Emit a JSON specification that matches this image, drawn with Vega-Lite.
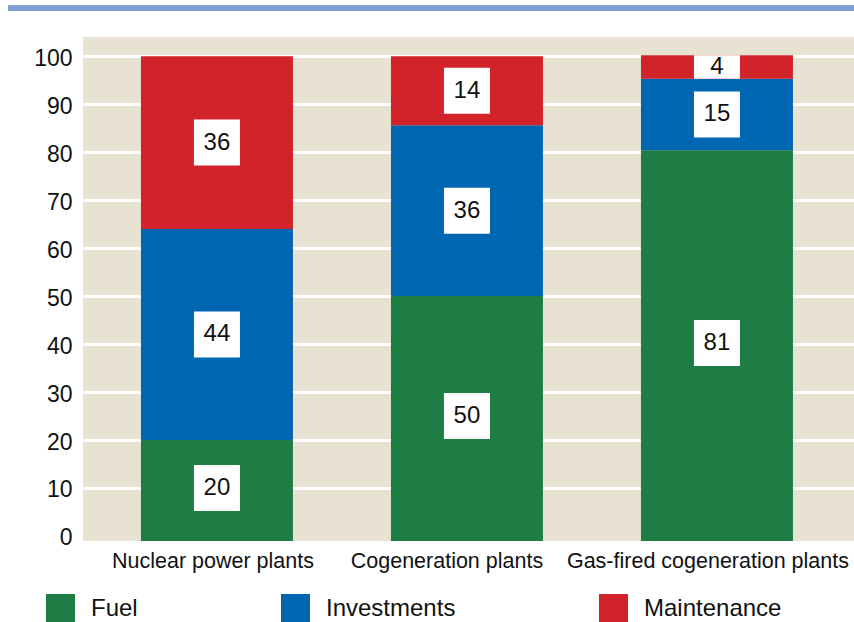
{
  "$schema": "https://vega.github.io/schema/vega-lite/v6.json",
  "width": 771,
  "height": 504,
  "autosize": {"type": "none"},
  "padding": {"left": 83, "top": 37, "right": 0, "bottom": 81},
  "background": "white",
  "config": {
    "view": {"fill": "#E8E2D3", "stroke": null},
    "font": "Liberation Sans"
  },
  "data": {
    "values": [
      {"plant": "Nuclear power plants", "cost": "Fuel", "rank": 1, "value": 20, "label": "20"},
      {"plant": "Nuclear power plants", "cost": "Investments", "rank": 2, "value": 44, "label": "44"},
      {"plant": "Nuclear power plants", "cost": "Maintenance", "rank": 3, "value": 36, "label": "36"},
      {"plant": "Cogeneration plants", "cost": "Fuel", "rank": 1, "value": 50, "label": "50"},
      {"plant": "Cogeneration plants", "cost": "Investments", "rank": 2, "value": 35.6, "label": "36"},
      {"plant": "Cogeneration plants", "cost": "Maintenance", "rank": 3, "value": 14.4, "label": "14"},
      {"plant": "Gas-fired cogeneration plants", "cost": "Fuel", "rank": 1, "value": 80.4, "label": "81"},
      {"plant": "Gas-fired cogeneration plants", "cost": "Investments", "rank": 2, "value": 14.9, "label": "15"},
      {"plant": "Gas-fired cogeneration plants", "cost": "Maintenance", "rank": 3, "value": 4.9, "label": "4"}
    ]
  },
  "transform": [
    {"stack": "value", "groupby": ["plant"], "sort": [{"field": "rank", "order": "ascending"}], "as": ["v0", "v1"]},
    {"calculate": "datum.v0 == 0 ? -1.05 : datum.v0", "as": "base"},
    {"calculate": "(datum.v0 + datum.v1) / 2", "as": "mid"},
    {"calculate": "max(datum.v0, datum.mid - 4.8)", "as": "boxLo"},
    {"calculate": "min(datum.v1, datum.mid + 4.8)", "as": "boxHi"}
  ],
  "layer": [
    {
      "encoding": {
        "x": {
          "field": "plant",
          "type": "nominal",
          "sort": ["Nuclear power plants", "Cogeneration plants", "Gas-fired cogeneration plants"],
          "scale": {"paddingInner": 0.392, "paddingOuter": 0.238, "align": 0.487},
          "axis": {
            "title": null,
            "labelAngle": 0,
            "labelFontSize": 21.5,
            "labelColor": "#111111",
            "labelPadding": 9,
            "labelLimit": 0,
            "ticks": false,
            "domain": false,
            "labelOffset": {
              "condition": [
                {"test": "datum.value == 'Cogeneration plants'", "value": -20},
                {"test": "datum.value == 'Gas-fired cogeneration plants'", "value": -9}
              ],
              "value": -4
            }
          }
        }
      },
      "layer": [
        {
          "mark": {"type": "bar"},
          "encoding": {
            "y": {
              "field": "v1",
              "type": "quantitative",
              "scale": {"domain": [-1.05, 104], "nice": false, "zero": false},
              "axis": {
                "title": null,
                "values": [0, 10, 20, 30, 40, 50, 60, 70, 80, 90, 100],
                "domain": false,
                "ticks": false,
                "labelFontSize": 23,
                "labelColor": "#111111",
                "labelPadding": 11,
                "labelOffset": 2,
                "gridColor": "#FFFFFF",
                "gridWidth": 3,
                "gridOpacity": {"condition": {"test": "datum.value == 0", "value": 0}, "value": 1}
              }
            },
            "y2": {"field": "base"},
            "color": {
              "field": "cost",
              "type": "nominal",
              "scale": {
                "domain": ["Fuel", "Investments", "Maintenance"],
                "range": ["#1E7D45", "#0066B2", "#D2232A"]
              },
              "legend": {
                "title": null,
                "orient": "none",
                "direction": "horizontal",
                "legendX": -37,
                "legendY": 557,
                "padding": 0,
                "symbolType": "square",
                "symbolSize": 841,
                "symbolStrokeWidth": 0,
                "symbolOpacity": 1,
                "labelFontSize": 24,
                "labelColor": "#111111",
                "labelOffset": 16,
                "columnPadding": 143
              }
            }
          }
        },
        {
          "mark": {"type": "bar", "size": 46, "color": "#FFFFFF"},
          "encoding": {
            "y": {"field": "boxHi", "type": "quantitative"},
            "y2": {"field": "boxLo"}
          }
        },
        {
          "mark": {"type": "text", "fontSize": 24, "color": "#111111", "baseline": "middle", "align": "center"},
          "encoding": {
            "y": {"field": "mid", "type": "quantitative"},
            "text": {"field": "label"}
          }
        }
      ]
    },
    {
      "mark": {"type": "rule", "color": "#7EA0D4", "strokeWidth": 5, "xOffset": -75},
      "encoding": {
        "y": {"datum": 110, "type": "quantitative"},
        "x": {"value": 0},
        "x2": {"value": {"expr": "width"}}
      }
    }
  ]
}
